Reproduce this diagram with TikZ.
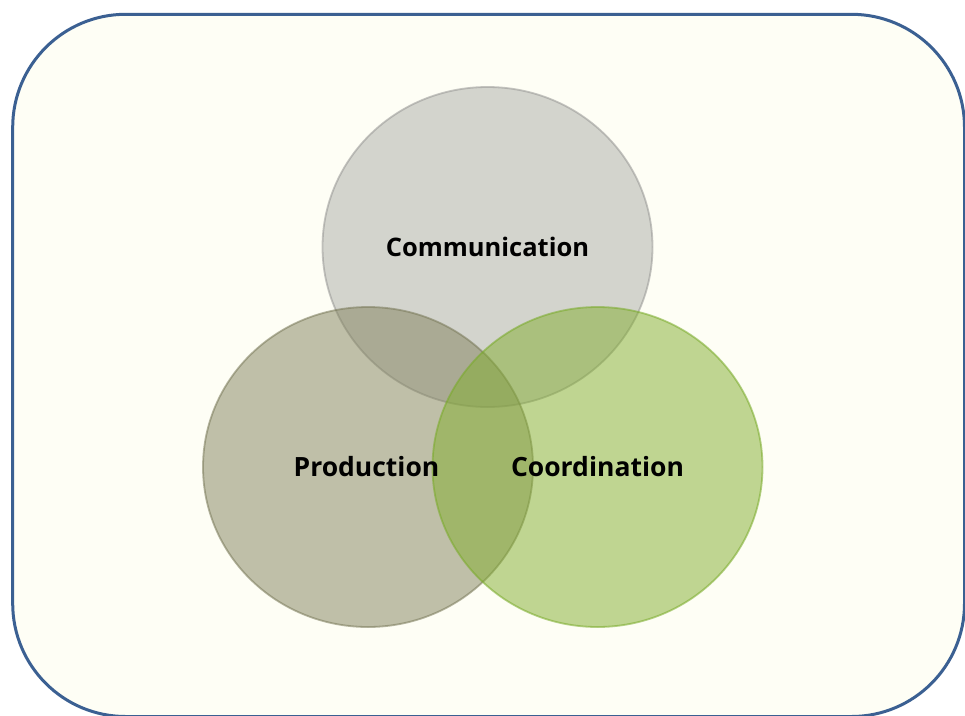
\documentclass[tikz,border=0pt]{standalone}
\usepackage{fontspec}
\setmainfont{Open Sans}
\usetikzlibrary{shapes.geometric}
\definecolor{frameblue}{RGB}{59,96,146}
\definecolor{bgcream}{RGB}{254,254,245}
\definecolor{commfill}{RGB}{170,172,166}
\definecolor{commline}{RGB}{150,150,148}
\definecolor{prodfill}{RGB}{130,130,92}
\definecolor{prodline}{RGB}{120,120,88}
\definecolor{coorfill}{RGB}{130,174,46}
\definecolor{coorline}{RGB}{120,170,40}
\tikzset{
  venn/.style={ellipse, minimum width=330pt, minimum height=320pt, inner sep=0pt,
    fill opacity=0.5, draw opacity=0.55, line width=1.8pt},
  vlabel/.style={font=\fontsize{26.5}{30}\selectfont\bfseries, text=black, inner sep=0pt}
}
\begin{document}
\begin{tikzpicture}[x=1pt,y=-1pt]
\useasboundingbox (0,0) rectangle (965,715);
\fill[white] (0,0) rectangle (965,715);
\draw[frameblue, line width=3pt, fill=bgcream, rounded corners=113pt]
  (12.7,14.3) rectangle (964.5,716.5);
\node[venn, fill=commfill, draw=commline] (comm) at (487.5,247) {};
\node[venn, fill=prodfill, draw=prodline] (prod) at (368,467) {};
\node[venn, fill=coorfill, draw=coorline] (coor) at (597.5,467) {};
\node[vlabel] (commt) at (comm.center) {\fontsize{25.5}{30}\selectfont Communication};
\node[vlabel] (prodt) at ([xshift=-1.5pt]prod.center) {Production};
\node[vlabel] (coort) at (coor.center) {Coordination};
\end{tikzpicture}
\end{document}
